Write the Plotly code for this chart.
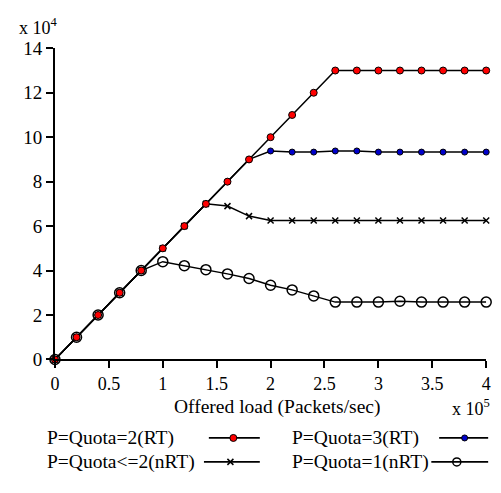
import plotly.graph_objects as go

# ---- data ----
load = [0, 0.2, 0.4, 0.6, 0.8, 1.0, 1.2, 1.4, 1.6, 1.8, 2.0,
        2.2, 2.4, 2.6, 2.8, 3.0, 3.2, 3.4, 3.6, 3.8, 4.0]
quota2_rt = [0, 1, 2, 3, 4, 5, 6, 7, 8, 9, 10, 11, 12, 13,
             13, 13, 13, 13, 13, 13, 13]
quota3_rt = [0, 1, 2, 3, 4, 5, 6, 7, 8, 9, 9.38, 9.33, 9.33, 9.38,
             9.38, 9.33, 9.33, 9.33, 9.33, 9.33, 9.33]
quota_le2_nrt = [0, 1, 2, 3, 4, 5, 6, 7, 6.9, 6.45, 6.25, 6.25, 6.25, 6.25,
                 6.25, 6.25, 6.25, 6.25, 6.25, 6.25, 6.25]
quota1_nrt = [0, 1, 2, 3, 4, 4.4, 4.22, 4.04, 3.85, 3.64, 3.34, 3.13, 2.86,
              2.58, 2.58, 2.58, 2.62, 2.58, 2.58, 2.58, 2.58]

names = ["P=Quota=2(RT)", "P=Quota=3(RT)", "P=Quota<=2(nRT)", "P=Quota=1(nRT)"]
x_ticks = [0, 0.5, 1, 1.5, 2, 2.5, 3, 3.5, 4]
x_tick_text = ["0", "0.5", "1", "1.5", "2", "2.5", "3", "3.5", "4"]
y_ticks = [0, 2, 4, 6, 8, 10, 12, 14]

FONT = "'Liberation Serif', 'Times New Roman', 'DejaVu Serif', serif"
W, H = 501, 493

styles = {
    "P=Quota=2(RT)": dict(symbol="circle", size=7, color="#ff0000",
                          line=dict(color="black", width=1)),
    "P=Quota=3(RT)": dict(symbol="circle", size=6, color="#0000cc",
                          line=dict(color="black", width=1)),
    "P=Quota<=2(nRT)": dict(symbol="x-thin", size=6, color="black",
                            line=dict(color="black", width=1.5)),
    "P=Quota=1(nRT)": dict(symbol="circle-open", size=10, color="black",
                           line=dict(color="black", width=1.5)),
}
series = {
    "P=Quota=2(RT)": quota2_rt,
    "P=Quota=3(RT)": quota3_rt,
    "P=Quota<=2(nRT)": quota_le2_nrt,
    "P=Quota=1(nRT)": quota1_nrt,
}

fig = go.Figure()
for nm in ["P=Quota=1(nRT)", "P=Quota<=2(nRT)", "P=Quota=3(RT)", "P=Quota=2(RT)"]:
    fig.add_trace(go.Scatter(
        x=load, y=series[nm], mode="lines+markers", name=nm,
        line=dict(color="black", width=1.5),
        marker=styles[nm], cliponaxis=False, showlegend=False,
        xaxis="x", yaxis="y"))

# ---- custom legend (text left, key right), in pixel-like units ----
leg_rows = {"P=Quota=2(RT)": (41, 447, 208, 260, 233),
            "P=Quota=3(RT)": (291, 447, 443, 493, 469),
            "P=Quota<=2(nRT)": (41, 472, 203, 260, 230),
            "P=Quota=1(nRT)": (291, 472, 435, 493, 461)}
annotations = []
for nm, (tx, ty, l0, l1, mx) in leg_rows.items():
    fig.add_trace(go.Scatter(x=[l0, l1], y=[ty, ty], mode="lines",
                             line=dict(color="black", width=1.8),
                             xaxis="x2", yaxis="y2", showlegend=False,
                             hoverinfo="skip"))
    ms = dict(styles[nm])
    if nm == "P=Quota=1(nRT)":
        ms["size"] = 8
    fig.add_trace(go.Scatter(x=[mx], y=[ty], mode="markers", marker=ms,
                             xaxis="x2", yaxis="y2", showlegend=False,
                             cliponaxis=False, hoverinfo="skip"))
    annotations.append(dict(text=nm, x=tx, y=ty, xref="x2", yref="y2",
                            xanchor="left", yanchor="middle", showarrow=False,
                            font=dict(family=FONT, size=19.5, color="black")))

annotations += [
    dict(text="Offered load (Packets/sec)", x=278 / W, y=1 - 415 / H,
         xref="paper", yref="paper", xanchor="center", yanchor="middle",
         showarrow=False, borderpad=0, height=20,
         font=dict(family=FONT, size=19.5, color="black")),
    dict(text="x 10<sup>5</sup>", x=455 / W, y=1 - 415 / H,
         xref="paper", yref="paper", xanchor="left", yanchor="middle",
         showarrow=False, borderpad=0,
         font=dict(family=FONT, size=18, color="black")),
    dict(text="x 10<sup>4</sup>", x=12 / W, y=1 - 17 / H,
         xref="paper", yref="paper", xanchor="left", yanchor="middle",
         showarrow=False, font=dict(family=FONT, size=18, color="black")),
]

ax_common = dict(showgrid=False, zeroline=False, showline=True, linecolor="black",
                 linewidth=2, ticks="outside", ticklen=7, tickwidth=2,
                 tickcolor="black", mirror=False)

fig.update_layout(
    width=W, height=H,
    margin=dict(l=0, r=0, t=0, b=0),
    paper_bgcolor="white", plot_bgcolor="white",
    xaxis=dict(domain=[51 / W, 491 / W], range=[0, 4], tickvals=x_ticks,
               ticktext=x_tick_text, anchor="y",
               tickfont=dict(family=FONT, size=18, color="black"), **ax_common),
    yaxis=dict(domain=[128 / H, 453 / H], range=[0, 14], tickvals=y_ticks,
               anchor="x",
               tickfont=dict(family=FONT, size=19, color="black"), **ax_common),
    xaxis2=dict(domain=[0, 1], range=[0, W], visible=False, anchor="y2"),
    yaxis2=dict(domain=[0, 100 / H], range=[H, H - 100], visible=False,
                anchor="x2"),
    annotations=annotations,
    font=dict(family=FONT, color="black"),
)

fig.write_html("out.html")
